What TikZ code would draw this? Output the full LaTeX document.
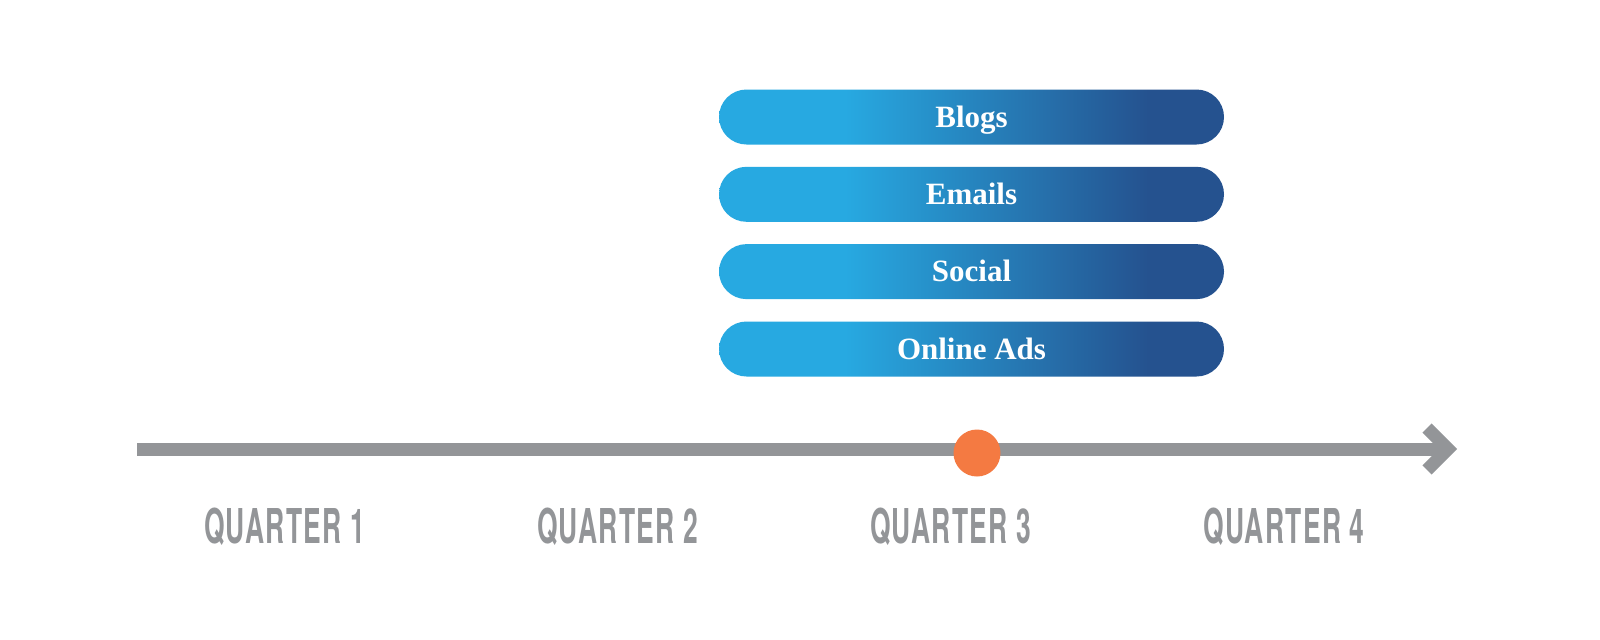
\documentclass[tikz,border=0pt]{standalone}
\usepackage{fontspec}
\usepackage{graphicx}
\setmainfont{Liberation Serif}
\newfontfamily\qfont[LetterSpace=5]{TeX Gyre Heros}
\usetikzlibrary{calc}
\definecolor{lb}{HTML}{27A9E1}
\definecolor{db}{HTML}{25528F}
\definecolor{axcol}{HTML}{939598}
\definecolor{dotcol}{HTML}{F47A42}
\pgfdeclarehorizontalshading{barshade}{100bp}{color(0bp)=(lb); color(37.5bp)=(lb); color(67.5bp)=(db); color(100bp)=(db)}
\tikzset{
  bar/.style={rectangle, rounded corners=13.75pt, shading=barshade, draw=none,
    minimum width=252.5pt, minimum height=27.5pt, inner sep=0pt,
    text height=10pt, text depth=0pt, text=white,
    font=\bfseries\fontsize{15.5}{15.5}\selectfont},
  axisline/.style={draw=axcol, line width=6.5pt},
  qlabel/.style={anchor=base, inner sep=0pt, text=axcol,
    font=\qfont\bfseries\fontsize{24}{24}\selectfont},
  marker/.style={circle, fill=dotcol, minimum size=23.5pt, inner sep=0pt}
}
\begin{document}
\begin{tikzpicture}[x=0.5pt, y=-0.5pt]
\useasboundingbox[fill=white] (0,0) rectangle (1600,639);
\node[bar] (blogs) at (971.5,117) {Blogs};
\node[bar] (emails) at (971.5,194.3) {Emails};
\node[bar] (social) at (971.5,271.6) {Social};
\node[bar] (ads) at (971.5,349) {Online Ads};
\coordinate (start) at (137,449);
\coordinate (tip) at (1448,449);
\draw[axisline] (start) -- (tip);
\draw[axisline, line join=miter] ($(tip)+(-21,-21)$) -- (tip) -- ($(tip)+(-21,21)$);
\node[marker] (dot) at (977,453) {};
\node[qlabel] (q1) at (284.5,543) {\scalebox{0.55}[1]{QUARTER 1}};
\node[qlabel] (q2) at (617.5,543) {\scalebox{0.55}[1]{QUARTER 2}};
\node[qlabel] (q3) at (950.5,543) {\scalebox{0.55}[1]{QUARTER 3}};
\node[qlabel] (q4) at (1284,543) {\scalebox{0.55}[1]{QUARTER 4}};
\end{tikzpicture}
\end{document}
